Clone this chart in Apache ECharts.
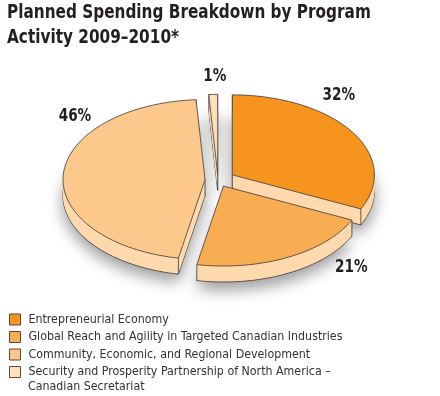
<!DOCTYPE html>
<html>
<head>
<meta charset="utf-8">
<script src="https://cdn.jsdelivr.net/npm/echarts@6/dist/echarts.min.js"></script>
<style>
html,body{margin:0;padding:0;background:#fff;}
#main{width:440px;height:396px;}
</style>
</head>
<body>
<div id="main"></div>
<script>
// data
var categories = [
    'Entrepreneurial Economy',
    'Global Reach and Agility in Targeted Canadian Industries',
    'Community, Economic, and Regional Development',
    'Security and Prosperity Partnership of North America –\nCanadian Secretariat'
];
var percents = [32, 21, 46, 1];
var titleText = 'Planned Spending Breakdown by Program\nActivity 2009–2010*';

// look
var narrow = "'Liberation Sans Narrow', 'DejaVu Sans Condensed', sans-serif";
var topColors = ['#f7941e', '#f9ad52', '#fdc88b', '#fee0bd'];
var sideColor = '#fdd9ad';
var edge = '#3b3b3b';
var zOrder = [3, 4, 2, 1];
var cx = 218, cy = 180, rx = 142, ry = 80, depth = 16;
var explode = [17, 12, 13, 10];
var labelAt = [[38.7, 1.36], [139.3, 1.44], [308.1, 1.28], [359, 1.30]];

function ellipsePt(ox, oy, deg) {
    var a = deg * Math.PI / 180;
    return [ox + rx * Math.sin(a), oy - ry * Math.cos(a)];
}
function slicePoints(ox, oy, a0, a1) {
    var pts = [[ox, oy]];
    var n = Math.max(2, Math.ceil((a1 - a0) / 2));
    for (var j = 0; j <= n; j++) {
        pts.push(ellipsePt(ox, oy, a0 + (a1 - a0) * j / n));
    }
    return pts;
}

function makeRender(i) {
    return function (params, api) {
        var total = 0, before = 0;
        for (var k = 0; k < percents.length; k++) {
            total += percents[k];
            if (k < i) before += percents[k];
        }
        var v = api.value(0);
        var a0 = before / total * 360;
        var a1 = (before + v) / total * 360;
        var mid = (a0 + a1) / 2 * Math.PI / 180;
        var ox = cx + explode[i] * Math.sin(mid);
        var oy = cy - explode[i] * Math.cos(mid) * ry / rx;
        var children = [];
        // bottom of the slab, with the soft shadow
        children.push({
            type: 'polygon',
            shape: { points: slicePoints(ox, oy + depth, a0, a1) },
            style: { fill: sideColor, stroke: edge, lineWidth: 0.8,
                shadowBlur: 16, shadowColor: 'rgba(0,0,0,0.4)', shadowOffsetY: 7 }
        });
        // side walls
        for (var d = depth - 1; d >= 1; d--) {
            children.push({
                type: 'polygon', silent: true,
                shape: { points: slicePoints(ox, oy + d, a0, a1) },
                style: { fill: sideColor }
            });
        }
        var corners = [[ox, oy], ellipsePt(ox, oy, a0), ellipsePt(ox, oy, a1)];
        corners.forEach(function (p) {
            children.push({
                type: 'line',
                shape: { x1: p[0], y1: p[1], x2: p[0], y2: p[1] + depth },
                style: { stroke: edge, lineWidth: 0.8 }
            });
        });
        // top face
        children.push({
            type: 'polygon',
            shape: { points: slicePoints(ox, oy, a0, a1) },
            style: { fill: api.visual('color'), stroke: edge, lineWidth: 0.8 }
        });
        // percent label
        var la = labelAt[i][0] * Math.PI / 180;
        children.push({
            type: 'text',
            x: cx + rx * labelAt[i][1] * Math.sin(la),
            y: cy - ry * labelAt[i][1] * Math.cos(la),
            scaleX: 0.84,
            style: {
                text: v + '%',
                font: 'bold 18px ' + narrow,
                fill: '#231f20',
                align: 'center',
                verticalAlign: 'middle'
            }
        });
        return { type: 'group', children: children };
    };
}

var myChart = echarts.init(document.getElementById('main'));
var option = {
    animation: false,
    color: topColors,
    legend: {
        orient: 'vertical',
        left: 9,
        top: 311,
        padding: 0,
        itemWidth: 11,
        itemHeight: 11,
        itemGap: 0.5,
        icon: 'rect',
        selectedMode: false,
        itemStyle: { borderColor: '#5b4b3b', borderWidth: 1 },
        textStyle: {
            fontFamily: narrow,
            fontSize: 12.3,
            lineHeight: 17,
            color: '#333',
            padding: [0, 0, 0, 3]
        },
        formatter: function (name) { return name.split('\n')[0]; },
        data: categories
    },
    graphic: [{
        // title, squeezed to the condensed face of the original
        type: 'text',
        x: 7,
        y: 0,
        scaleX: 0.85,
        style: {
            text: titleText,
            font: 'bold 20px ' + narrow,
            lineHeight: 25,
            fill: '#231f20'
        }
    }, {
        type: 'text',
        left: 28,
        top: 381,
        style: {
            text: categories[3].split('\n')[1],
            font: '12.3px ' + narrow,
            fill: '#333'
        }
    }],
    series: categories.map(function (name, i) {
        return {
            type: 'custom',
            name: name,
            coordinateSystem: 'none',
            z: zOrder[i],
            itemStyle: { color: topColors[i] },
            data: [[percents[i]]],
            renderItem: makeRender(i)
        };
    })
};
myChart.setOption(option);
</script>
</body>
</html>
